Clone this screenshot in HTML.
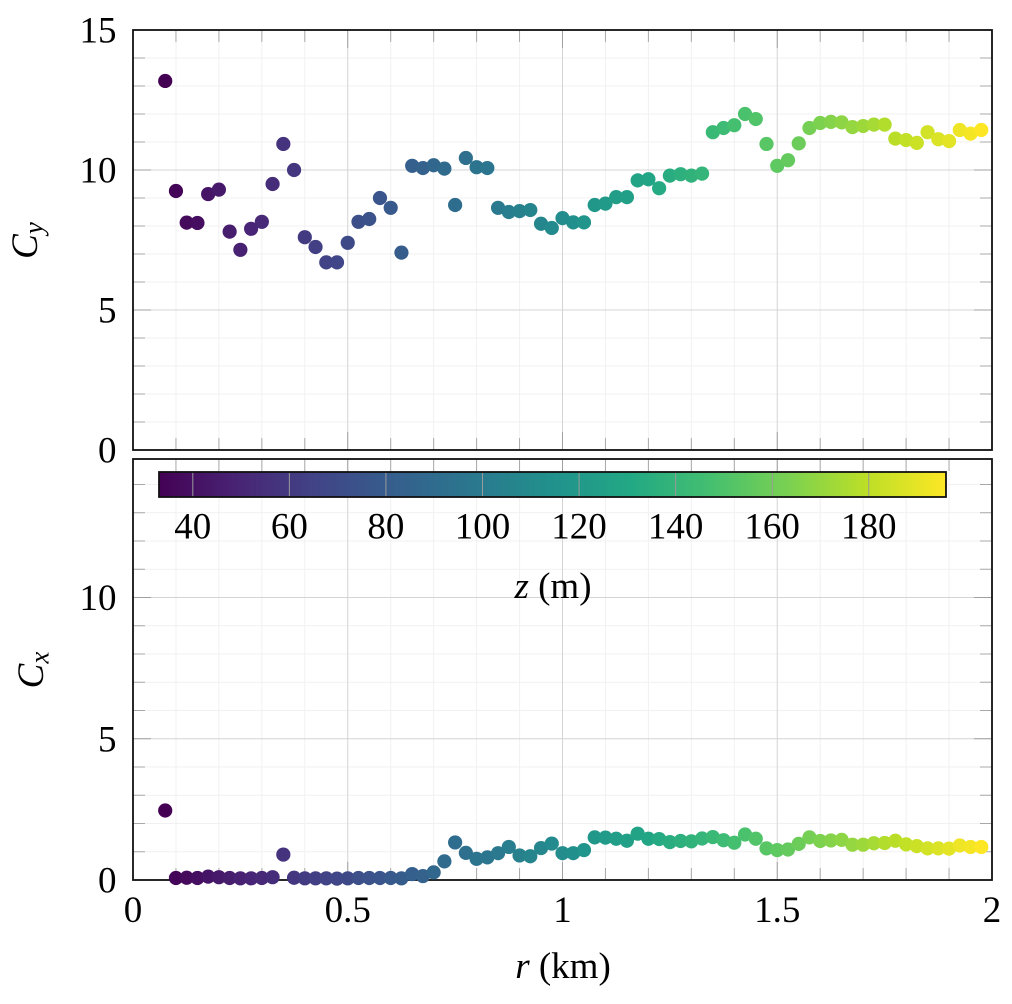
<!DOCTYPE html>
<html lang="en">
<head>
<meta charset="utf-8">
<title>Cy and Cx against r</title>
<style>
html,body{margin:0;padding:0;background:#fff;}
svg{display:block;}
text{font-family:"Liberation Serif",serif;fill:#000;}
</style>
</head>
<body>
<svg id="chart" xmlns="http://www.w3.org/2000/svg" width="1012" height="1004" viewBox="0 0 1012 1004">
<defs><linearGradient id="viridis-gradient" x1="0" x2="1" y1="0" y2="0"></linearGradient></defs>
</svg>
<script>
const rValues = [0.075,0.1,0.125,0.15,0.175,0.2,0.225,0.25,0.275,0.3,0.325,0.35,0.375,0.4,0.425,0.45,0.475,0.5,0.525,0.55,0.575,0.6,0.625,0.65,0.675,0.7,0.725,0.75,0.775,0.8,0.825,0.85,0.875,0.9,0.925,0.95,0.975,1,1.025,1.05,1.075,1.1,1.125,1.15,1.175,1.2,1.225,1.25,1.275,1.3,1.325,1.35,1.375,1.4,1.425,1.45,1.475,1.5,1.525,1.55,1.575,1.6,1.625,1.65,1.675,1.7,1.725,1.75,1.775,1.8,1.825,1.85,1.875,1.9,1.925,1.95,1.975];
const zValues = [33,35,37,39,42,44,46,48,50,52,54,57,59,61,63,65,67,69,72,74,76,78,80,82,84,87,89,91,93,95,97,99,102,104,106,108,110,112,114,117,119,121,123,125,127,129,132,134,136,138,140,142,144,147,149,151,153,155,157,159,162,164,166,168,170,172,174,177,179,181,183,185,187,189,192,194,196];
const cyValues = [13.18,9.25,8.12,8.11,9.14,9.3,7.8,7.15,7.9,8.15,9.5,10.93,10.0,7.6,7.25,6.7,6.7,7.4,8.15,8.25,9.0,8.65,7.05,10.15,10.07,10.17,10.05,8.75,10.43,10.1,10.07,8.65,8.5,8.53,8.57,8.08,7.93,8.28,8.13,8.13,8.75,8.8,9.03,9.03,9.63,9.67,9.35,9.8,9.85,9.8,9.87,11.35,11.5,11.6,12.0,11.82,10.93,10.15,10.35,10.95,11.5,11.68,11.72,11.7,11.53,11.57,11.62,11.62,11.12,11.07,10.97,11.35,11.1,11.03,11.43,11.3,11.43];
const cxValues = [2.46,0.07,0.08,0.07,0.12,0.1,0.07,0.06,0.06,0.07,0.1,0.9,0.08,0.06,0.06,0.06,0.05,0.06,0.07,0.07,0.07,0.07,0.06,0.21,0.14,0.27,0.66,1.33,0.96,0.75,0.8,0.95,1.17,0.87,0.84,1.13,1.29,0.95,0.95,1.06,1.51,1.5,1.46,1.39,1.64,1.46,1.45,1.34,1.38,1.37,1.47,1.52,1.41,1.32,1.61,1.46,1.12,1.06,1.08,1.28,1.51,1.38,1.4,1.42,1.25,1.25,1.3,1.31,1.39,1.26,1.2,1.12,1.12,1.11,1.22,1.17,1.17];
const xMajorTicks = [0,0.5,1,1.5,2];
const xTickLabels = ["0","0.5","1","1.5","2"];
const xMinorTicks = [0.1,0.2,0.3,0.4,0.6,0.7,0.8,0.9,1.1,1.2,1.3,1.4,1.6,1.7,1.8,1.9];
const yMajorTicksTop = [0,5,10,15];
const yTickLabelsTop = ["0","5","10","15"];
const yMajorTicksBottom = [0,5,10];
const yTickLabelsBottom = ["0","5","10"];
const yMinorTicks = [1,2,3,4,6,7,8,9,11,12,13,14];
const colorbarTicks = [40,60,80,100,120,140,160,180];
const colorbarLabels = ["40","60","80","100","120","140","160","180"];

const viridisStops = ["#440154","#482475","#414487","#355f8d","#2a788e","#21918c","#22a884","#44bf70","#7ad151","#bddf26","#fde725"];
const zMin = 33, zMax = 196;
const svg = document.getElementById('chart');
const NS = 'http://www.w3.org/2000/svg';
const left = 133, right = 992;
const topPanel = {top:30, bottom:450, scale:28};
const bottomPanel = {top:459, bottom:880, scale:28.25};
const xPos = v => left + v * (right - left) / 2;
const yPos = (panel, v) => panel.bottom - v * panel.scale;
const barLeft = 159, barRight = 946, barTop = 472, barBottom = 497;
const zPos = z => barLeft + (z - zMin) * (barRight - barLeft) / (zMax - zMin);

function hexRgb(h){return [1,3,5].map(i=>parseInt(h.substr(i,2),16));}
function viridis(t){
  t = Math.min(1, Math.max(0, t));
  const p = t * (viridisStops.length - 1), i = Math.min(Math.floor(p), viridisStops.length - 2), f = p - i;
  const a = hexRgb(viridisStops[i]), b = hexRgb(viridisStops[i + 1]);
  return 'rgb(' + a.map((c,k)=>Math.round(c + (b[k] - c) * f)).join(',') + ')';
}
function line(x1,y1,x2,y2,stroke,width,name){
  const el = document.createElementNS(NS,'line');
  el.setAttribute('x1',x1);el.setAttribute('y1',y1);el.setAttribute('x2',x2);el.setAttribute('y2',y2);
  el.setAttribute('stroke',stroke);el.setAttribute('stroke-width',width);
  
  
  svg.appendChild(el);
}
function label(x,y,str,anchor,name,size){
  const el = document.createElementNS(NS,'text');
  el.setAttribute('x',x);el.setAttribute('y',y);el.setAttribute('text-anchor',anchor);
  el.setAttribute('font-size',size || 37);
  el.textContent = str;
  
  
  svg.appendChild(el);
  return el;
}
function drawPanel(panel, yMajor, prefix){
  yMinorTicks.forEach(v=>{const y=yPos(panel,v); line(left,y,right,y,'#f1f1f1',1,prefix+'-minor-grid-y');});
  xMinorTicks.forEach(v=>{const x=xPos(v); line(x,panel.top,x,panel.bottom,'#f1f1f1',1,prefix+'-minor-grid-x');});
  yMajor.forEach(v=>{const y=yPos(panel,v); line(left,y,right,y,'#d4d4d4',1,prefix+'-major-grid-y');});
  xMajorTicks.forEach(v=>{const x=xPos(v); line(x,panel.top,x,panel.bottom,'#d4d4d4',1,prefix+'-major-grid-x');});
  xMinorTicks.forEach(v=>{const x=xPos(v);
    line(x,panel.top,x,panel.top+12,'#a8a8a8',1,prefix+'-minor-tick-x');
    line(x,panel.bottom,x,panel.bottom-12,'#a8a8a8',1,prefix+'-minor-tick-x');});
  xMajorTicks.forEach(v=>{const x=xPos(v);
    line(x,panel.top,x,panel.top+18,'#a0a0a0',1,prefix+'-major-tick-x');
    line(x,panel.bottom,x,panel.bottom-18,'#a0a0a0',1,prefix+'-major-tick-x');});
  yMinorTicks.forEach(v=>{const y=yPos(panel,v);
    line(left,y,left+12,y,'#a8a8a8',1,prefix+'-minor-tick-y');
    line(right,y,right-12,y,'#a8a8a8',1,prefix+'-minor-tick-y');});
  yMajor.forEach(v=>{const y=yPos(panel,v);
    line(left,y,left+18,y,'#a0a0a0',1,prefix+'-major-tick-y');
    line(right,y,right-18,y,'#a0a0a0',1,prefix+'-major-tick-y');});
  const frame = document.createElementNS(NS,'rect');
  frame.setAttribute('x',left);frame.setAttribute('y',panel.top);
  frame.setAttribute('width',right-left);frame.setAttribute('height',panel.bottom-panel.top);
  frame.setAttribute('fill','none');frame.setAttribute('stroke','#111');frame.setAttribute('stroke-width',1.8);
  
  
  svg.appendChild(frame);
}
function drawPoints(panel, values, prefix){
  values.forEach((v,i)=>{
    const c = document.createElementNS(NS,'circle');
    c.setAttribute('cx',xPos(rValues[i]));
    c.setAttribute('cy',yPos(panel,v));
    c.setAttribute('r',7.1);
    c.setAttribute('fill',viridis((zValues[i]-zMin)/(zMax-zMin)));
    
    
    svg.appendChild(c);
  });
}
function rotatedTitle(x,y,sub,name){
  const el = document.createElementNS(NS,'text');
  el.setAttribute('transform','translate('+x+' '+y+') rotate(-90)');
  el.setAttribute('text-anchor','middle');
  el.setAttribute('font-size',37);
  el.setAttribute('font-style','italic');
  const a = document.createElementNS(NS,'tspan');
  a.textContent = 'C';
  el.appendChild(a);
  const b = document.createElementNS(NS,'tspan');
  b.setAttribute('font-size',27);
  b.setAttribute('dy',5.5);
  b.textContent = sub;
  el.appendChild(b);
  
  
  svg.appendChild(el);
}

drawPanel(topPanel, yMajorTicksTop, 'top-panel');
drawPanel(bottomPanel, yMajorTicksBottom, 'bottom-panel');

/* colorbar */
const grad = document.getElementById('viridis-gradient');
viridisStops.forEach((c,i)=>{
  const s = document.createElementNS(NS,'stop');
  s.setAttribute('offset',i/(viridisStops.length-1));
  s.setAttribute('stop-color',c);
  grad.appendChild(s);
});
const bar = document.createElementNS(NS,'rect');
bar.setAttribute('x',barLeft);bar.setAttribute('y',barTop);
bar.setAttribute('width',barRight-barLeft);bar.setAttribute('height',barBottom-barTop);
bar.setAttribute('fill','url(#viridis-gradient)');


svg.appendChild(bar);
colorbarTicks.forEach((z,i)=>{
  line(zPos(z),barTop,zPos(z),barBottom,'#9a9a9a',1,'colorbar-tick');
  label(zPos(z),538.5,colorbarLabels[i],'middle','colorbar-tick-label');
});
const barFrame = document.createElementNS(NS,'rect');
barFrame.setAttribute('x',barLeft);barFrame.setAttribute('y',barTop);
barFrame.setAttribute('width',barRight-barLeft);barFrame.setAttribute('height',barBottom-barTop);
barFrame.setAttribute('fill','none');barFrame.setAttribute('stroke','#111');barFrame.setAttribute('stroke-width',1.8);


svg.appendChild(barFrame);

/* points */
drawPoints(topPanel, cyValues, 'cy');
drawPoints(bottomPanel, cxValues, 'cx');

/* tick labels */
yMajorTicksTop.forEach((v,i)=>{label(116.5,yPos(topPanel,v)+12.5,yTickLabelsTop[i],'end','cy-axis-tick-label');});
yMajorTicksBottom.forEach((v,i)=>{label(116.5,yPos(bottomPanel,v)+12.5,yTickLabelsBottom[i],'end','cx-axis-tick-label');});
xMajorTicks.forEach((v,i)=>{label(xPos(v),922,xTickLabels[i],'middle','r-axis-tick-label');});

/* titles */
rotatedTitle(37,240.5,'y','cy-axis-title');
rotatedTitle(43,670,'x','cx-axis-title');

const xTitle = label(563,978,'','middle','r-axis-title');
const xi = document.createElementNS(NS,'tspan');
xi.setAttribute('font-style','italic');
xi.textContent = 'r';
xTitle.appendChild(xi);
xTitle.appendChild(document.createTextNode(' (km)'));

const zTitle = label(553,598,'','middle','colorbar-title');
const zi = document.createElementNS(NS,'tspan');
zi.setAttribute('font-style','italic');
zi.textContent = 'z';
zTitle.appendChild(zi);
zTitle.appendChild(document.createTextNode(' (m)'));
</script>
</body>
</html>
